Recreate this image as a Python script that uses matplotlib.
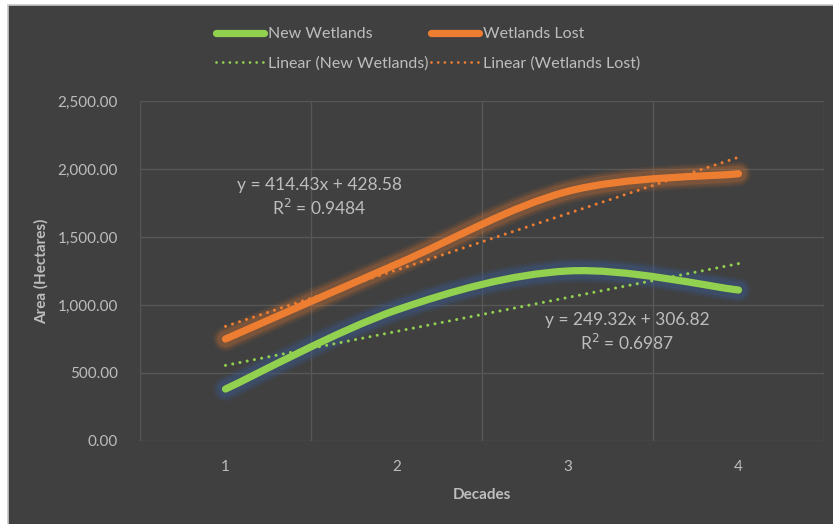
import matplotlib.pyplot as plt
import matplotlib.patches as patches
from matplotlib.path import Path
from matplotlib.lines import Line2D
from matplotlib.ticker import FuncFormatter

plt.rcParams['font.family'] = ['Lato', 'DejaVu Sans']

# decades and areas (hectares)
decades = [1, 2, 3, 4]
new_wetlands = [382, 963, 1250, 1110]
wetlands_lost = [750, 1300, 1835, 1965]

# linear trendline coefficients (slope, intercept, r2)
trend_new = (249.32, 306.82, 0.6987)
trend_lost = (414.43, 428.58, 0.9484)

y_ticks = [0, 500, 1000, 1500, 2000, 2500]

BG = '#404040'
GRID = '#575757'
TEXT = '#bdbdbd'
GREEN = '#92d050'
ORANGE = '#ed7d31'
DOTS = (0, (0.01, 2.4))


def smooth_path(xs, ys):
    """Bezier path through the points, like a smoothed line in a spreadsheet."""
    pts = list(zip(xs, ys))
    verts = [pts[0]]
    codes = [Path.MOVETO]
    for i in range(len(pts) - 1):
        p0 = pts[i - 1] if i > 0 else pts[i]
        p1 = pts[i]
        p2 = pts[i + 1]
        p3 = pts[i + 2] if i + 2 < len(pts) else pts[i + 1]
        c1 = (p1[0] + (p2[0] - p0[0]) / 6, p1[1] + (p2[1] - p0[1]) / 6)
        c2 = (p2[0] - (p3[0] - p1[0]) / 6, p2[1] - (p3[1] - p1[1]) / 6)
        verts += [c1, c2, p2]
        codes += [Path.CURVE4] * 3
    return Path(verts, codes)


def draw_series(ax, ys, color, glow, strength):
    path = smooth_path(decades, ys)
    # soft glow under the line
    for lw, a in [(18, 0.08), (15, 0.12), (12, 0.18)]:
        ax.add_patch(patches.PathPatch(path, facecolor='none', edgecolor=glow,
                                       lw=lw, alpha=a * strength, capstyle='round', zorder=3))
    ax.add_patch(patches.PathPatch(path, facecolor='none', edgecolor=color,
                                   lw=5.2, capstyle='round', zorder=4))


fig = plt.figure(figsize=(8.33, 5.24), dpi=100)
fig.patch.set_facecolor('white')
fig.add_artist(patches.Rectangle((8 / 833, -0.05), 1.1, 1.05 - 5 / 524, transform=fig.transFigure,
                                 facecolor=BG, edgecolor='#c8c8c8', lw=1.2, zorder=0))

ax = fig.add_axes([140 / 833, 83 / 524, 684 / 833, 340 / 524])
ax.set_facecolor(BG)
ax.patch.set_alpha(0)
ax.set_xlim(0.5, 4.5)
ax.set_ylim(0, 2500)

for x in [0.5, 1.5, 2.5, 3.5, 4.5]:
    ax.axvline(x, color=GRID, lw=1.0, zorder=1)
for y in y_ticks:
    ax.axhline(y, color=GRID, lw=1.0, zorder=1)

draw_series(ax, new_wetlands, GREEN, '#3a5a90', 1.6)
draw_series(ax, wetlands_lost, ORANGE, ORANGE, 1.0)

# trendlines
tx = [decades[0], decades[-1]]
ax.plot(tx, [trend_new[0] * x + trend_new[1] for x in tx], color=GREEN,
        lw=2.2, ls=DOTS, dash_capstyle='round', zorder=5)
ax.plot(tx, [trend_lost[0] * x + trend_lost[1] for x in tx], color=ORANGE,
        lw=2.2, ls=DOTS, dash_capstyle='round', zorder=5)

ax.text(1.55, 1790, 'y = %.2fx + %.2f\nR$^2$ = %.4f' % trend_lost, ha='center', va='center',
        color=TEXT, fontsize=12.5, linespacing=1.3, zorder=6)
ax.text(3.35, 795, 'y = %.2fx + %.2f\nR$^2$ = %.4f' % trend_new, ha='center', va='center',
        color=TEXT, fontsize=12.5, linespacing=1.3, zorder=6)

ax.set_xticks(decades)
ax.set_yticks(y_ticks)
ax.yaxis.set_major_formatter(FuncFormatter(lambda v, p: f'{v:,.2f}'))
ax.tick_params(length=0, colors=TEXT, labelsize=11)
ax.tick_params(axis='x', pad=14)
ax.tick_params(axis='y', pad=16)
for s in ax.spines.values():
    s.set_visible(False)

ax.set_xlabel('Decades', color=TEXT, fontsize=11, fontweight='bold', labelpad=10)
ax.set_ylabel('Area (Hectares)', color=TEXT, fontsize=11, fontweight='bold', labelpad=6)

handles = [
    Line2D([], [], color=GREEN, lw=5.2, solid_capstyle='round', label='New Wetlands'),
    Line2D([], [], color=GREEN, lw=2.0, ls=DOTS, dash_capstyle='round', label='Linear (New Wetlands)'),
    Line2D([], [], color=ORANGE, lw=5.2, solid_capstyle='round', label='Wetlands Lost'),
    Line2D([], [], color=ORANGE, lw=2.0, ls=DOTS, dash_capstyle='round', label='Linear (Wetlands Lost)'),
]
leg = fig.legend(handles=handles, ncol=2, loc='center', bbox_to_anchor=(428 / 833, 1 - 49 / 524),
                 frameon=False, fontsize=11.5, labelcolor=TEXT, handlelength=3.0,
                 handletextpad=0.25, columnspacing=0.2, labelspacing=0.95)

fig.savefig('out.png', dpi=100, facecolor=fig.get_facecolor())
